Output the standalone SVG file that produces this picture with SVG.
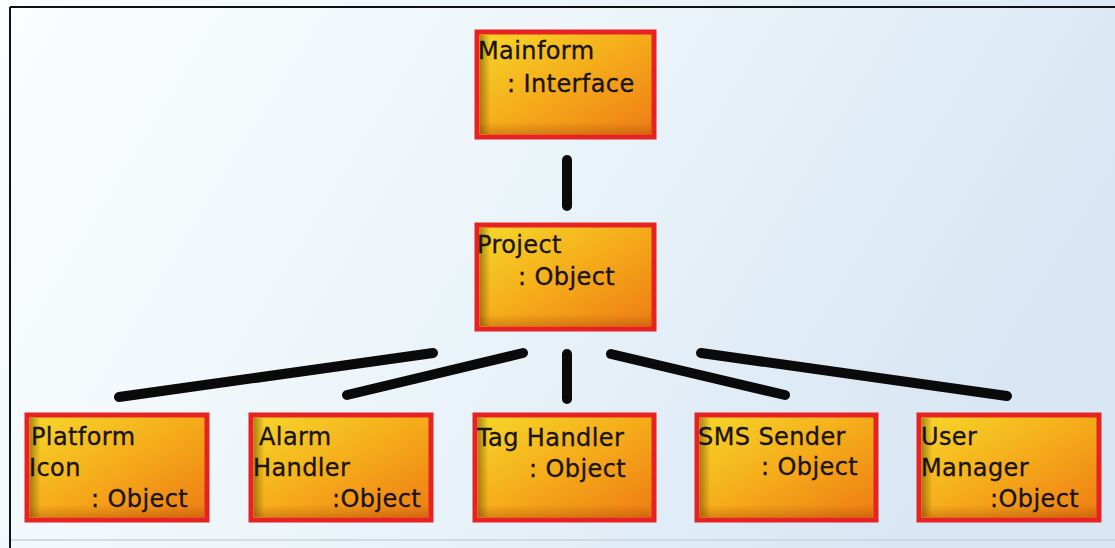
<svg xmlns="http://www.w3.org/2000/svg" width="1115" height="548" viewBox="0 0 1115 548">
  <defs>
    <linearGradient id="bg" x1="0" y1="0" x2="1" y2="0.3">
      <stop offset="0" stop-color="#fbfdfe"/>
      <stop offset="0.45" stop-color="#eef6fa"/>
      <stop offset="1" stop-color="#d9e7f4"/>
    </linearGradient>
    <linearGradient id="boxFill" x1="0" y1="0" x2="1" y2="1">
      <stop offset="0" stop-color="#f6d82a"/>
      <stop offset="0.5" stop-color="#f5ab1a"/>
      <stop offset="1" stop-color="#ee7a14"/>
    </linearGradient>
    <linearGradient id="edgeShade" x1="0" y1="0" x2="1" y2="0">
      <stop offset="0" stop-color="#6b4a00" stop-opacity="0.55"/>
      <stop offset="0.06" stop-color="#6b4a00" stop-opacity="0"/>
    </linearGradient>
    <linearGradient id="bottomShade" x1="0" y1="0" x2="0" y2="1">
      <stop offset="0.88" stop-color="#8a3a00" stop-opacity="0"/>
      <stop offset="1" stop-color="#8a3a00" stop-opacity="0.3"/>
    </linearGradient>
    <style>
      .box { fill: url(#boxFill); stroke: #e62222; stroke-width: 5; }
      .shade { fill: url(#edgeShade); }
      .shadeB { fill: url(#bottomShade); }
      .lbl { font-family: "DejaVu Sans", Verdana, sans-serif; font-size: 24px; letter-spacing: 0.4px; fill: #1a1410; stroke: #1a1410; stroke-width: 0.35px; }
      .conn { stroke: #0a0a0a; stroke-width: 10; stroke-linecap: round; fill: none; }
    </style>
  </defs>

  <!-- page background and frame -->
  <rect x="0" y="0" width="1115" height="548" fill="url(#bg)"/>
  <line x1="10" y1="7" x2="1115" y2="7" stroke="#111" stroke-width="2"/>
  <line x1="10" y1="7" x2="10" y2="548" stroke="#111" stroke-width="2"/>
  <line x1="11" y1="540" x2="1115" y2="540" stroke="#c9d3dc" stroke-width="1.5"/>

  <!-- connectors -->
  <g id="connectors">
    <line class="conn" x1="567" y1="160" x2="567" y2="206"/>
    <line class="conn" x1="119" y1="397" x2="433" y2="353"/>
    <line class="conn" x1="347" y1="395" x2="523" y2="353"/>
    <line class="conn" x1="567" y1="354" x2="567" y2="399"/>
    <line class="conn" x1="611" y1="354" x2="785" y2="395"/>
    <line class="conn" x1="701" y1="353" x2="1007" y2="396"/>
  </g>

  <g id="mainform">
    <rect class="box" x="477" y="32" width="177" height="105"/>
    <rect class="shade" x="480" y="35" width="171" height="99"/>
    <rect class="shadeB" x="480" y="35" width="171" height="99"/>
    <text class="lbl" x="478" y="59">Mainform</text>
    <text class="lbl" x="507" y="92">: Interface</text>
  </g>

  <g id="project">
    <rect class="box" x="477" y="225" width="177" height="104"/>
    <rect class="shade" x="480" y="228" width="171" height="98"/>
    <rect class="shadeB" x="480" y="228" width="171" height="98"/>
    <text class="lbl" x="477" y="253">Project</text>
    <text class="lbl" x="518" y="285">: Object</text>
  </g>

  <g id="platform-icon">
    <rect class="box" x="27" y="415" width="180" height="105"/>
    <rect class="shade" x="30" y="418" width="174" height="99"/>
    <rect class="shadeB" x="30" y="418" width="174" height="99"/>
    <text class="lbl" x="31" y="445">Platform</text>
    <text class="lbl" x="29" y="476">Icon</text>
    <text class="lbl" x="91" y="507">: Object</text>
  </g>

  <g id="alarm-handler">
    <rect class="box" x="251" y="415" width="180" height="105"/>
    <rect class="shade" x="254" y="418" width="174" height="99"/>
    <rect class="shadeB" x="254" y="418" width="174" height="99"/>
    <text class="lbl" x="259" y="445">Alarm</text>
    <text class="lbl" x="253" y="476">Handler</text>
    <text class="lbl" x="332" y="507">:Object</text>
  </g>

  <g id="tag-handler">
    <rect class="box" x="475" y="415" width="179" height="105"/>
    <rect class="shade" x="478" y="418" width="173" height="99"/>
    <rect class="shadeB" x="478" y="418" width="173" height="99"/>
    <text class="lbl" x="477" y="446">Tag Handler</text>
    <text class="lbl" x="529" y="477">: Object</text>
  </g>

  <g id="sms-sender">
    <rect class="box" x="697" y="415" width="179" height="105"/>
    <rect class="shade" x="700" y="418" width="173" height="99"/>
    <rect class="shadeB" x="700" y="418" width="173" height="99"/>
    <text class="lbl" x="698" y="445">SMS Sender</text>
    <text class="lbl" x="761" y="475">: Object</text>
  </g>

  <g id="user-manager">
    <rect class="box" x="919" y="415" width="180" height="105"/>
    <rect class="shade" x="922" y="418" width="174" height="99"/>
    <rect class="shadeB" x="922" y="418" width="174" height="99"/>
    <text class="lbl" x="921" y="445">User</text>
    <text class="lbl" x="921" y="476">Manager</text>
    <text class="lbl" x="990" y="507">:Object</text>
  </g>
</svg>
